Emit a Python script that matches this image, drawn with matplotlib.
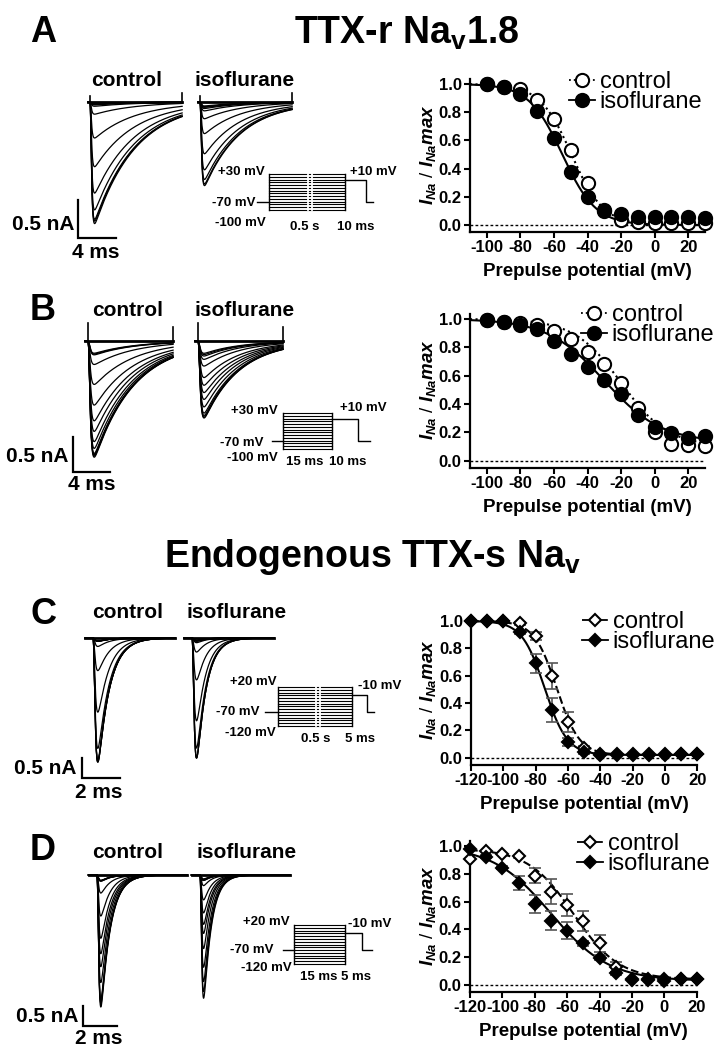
import numpy as np
import matplotlib
matplotlib.use('Agg')
import matplotlib.pyplot as plt
from matplotlib.lines import Line2D

plt.rcParams['font.family'] = ['Liberation Sans', 'DejaVu Sans']
plt.rcParams['font.weight'] = 'bold'
plt.rcParams['axes.unicode_minus'] = False
plt.rcParams['mathtext.fontset'] = 'custom'
plt.rcParams['mathtext.rm'] = 'Liberation Sans:bold'
plt.rcParams['mathtext.it'] = 'Liberation Sans:italic:bold'
plt.rcParams['mathtext.bf'] = 'Liberation Sans:bold'

# ------------------------------------------------------------------ data
prepulse_AB = [-100, -90, -80, -70, -60, -50, -40, -30, -20, -10, 0, 10, 20, 30]
prepulse_CD = [-120, -110, -100, -90, -80, -70, -60, -50, -40, -30, -20, -10, 0, 10, 20]

ctrl_A = [1.00, 0.98, 0.965, 0.887, 0.749, 0.532, 0.296, 0.10, 0.035, 0.024, 0.017, 0.017, 0.012, 0.017]
iso_A = [1.00, 0.98, 0.927, 0.811, 0.619, 0.378, 0.200, 0.106, 0.078, 0.059, 0.059, 0.059, 0.059, 0.047]

ctrl_B = [0.99, 0.98, 0.97, 0.958, 0.915, 0.857, 0.770, 0.680, 0.546, 0.370, 0.200, 0.118, 0.111, 0.104]
iso_B = [0.99, 0.98, 0.958, 0.927, 0.847, 0.751, 0.663, 0.569, 0.470, 0.322, 0.236, 0.193, 0.158, 0.174]

ctrl_C = [1.0, 1.0, 1.0, 0.983, 0.89, 0.598, 0.263, 0.068, 0.025, 0.025, 0.025, 0.025, 0.025, 0.027, 0.027]
iso_C = [1.0, 1.0, 1.0, 0.917, 0.69, 0.349, 0.117, 0.039, 0.020, 0.020, 0.020, 0.020, 0.022, 0.027, 0.027]
err_ctrl_C = [0, 0, 0, 0.01, 0.03, 0.095, 0.073, 0.02, 0, 0, 0, 0, 0, 0, 0]
err_iso_C = [0, 0, 0, 0.01, 0.07, 0.088, 0.03, 0.01, 0, 0, 0, 0, 0, 0, 0]

ctrl_D = [0.91, 0.966, 0.942, 0.93, 0.787, 0.671, 0.576, 0.463, 0.300, 0.132, 0.040, 0.040, 0.040, 0.045, 0.045]
iso_D = [0.976, 0.923, 0.844, 0.731, 0.583, 0.463, 0.391, 0.300, 0.197, 0.084, 0.036, 0.036, 0.031, 0.043, 0.043]
err_ctrl_D = [0, 0, 0, 0, 0.054, 0.09, 0.08, 0.072, 0.06, 0.036, 0, 0, 0, 0, 0]
err_iso_D = [0, 0.01, 0.01, 0.05, 0.068, 0.07, 0.06, 0.02, 0.02, 0.01, 0, 0, 0, 0, 0]

# Boltzmann fits: (V1/2, slope k, top, bottom)
fit_ctrl_A = (-49.5, 9.5, 1.0, 0.0)
fit_iso_A = (-55.0, 10.0, 1.0, 0.0)
fit_ctrl_B = (-20.0, 14.0, 1.0, 0.10)
fit_iso_B = (-30.0, 17.0, 1.0, 0.13)
fit_ctrl_C = (-67.0, 7.0, 1.0, 0.02)
fit_iso_C = (-74.5, 7.0, 1.0, 0.02)
fit_ctrl_D = (-56.0, 14.0, 0.98, 0.04)
fit_iso_D = (-70.0, 18.0, 1.0, 0.03)

# peak currents of the example traces (nA): panels A, B, C, D
peak_ctrl_nA = [1.6, 1.66, 3.1, 3.3]
peak_iso_nA = [1.1, 1.1, 3.0, 3.08]

# protocol voltage steps (mV)
prepulse_levels_AB = [-100, -90, -80, -70, -60, -50, -40, -30, -20, -10, 0, 10, 20, 30]
prepulse_levels_CD = [-120, -110, -100, -90, -80, -70, -60, -50, -40, -30, -20, -10, 0, 10, 20]
holding_mV = -70
test_mV_AB = 10
test_mV_CD = -10

# ------------------------------------------------------------------ figure
W, H = 724, 1050
fig = plt.figure(figsize=(W / 100, H / 100), dpi=100)


def px_axes(x0, x1, y0, y1):
    ax = fig.add_axes([x0 / W, 1 - y1 / H, (x1 - x0) / W, (y1 - y0) / H])
    return ax


def ftext(x, y, s, **kw):
    fig.text(x / W, 1 - y / H, s, **kw)


def boltz(v, vh, k, top, bot):
    return bot + (top - bot) / (1 + np.exp((v - vh) / k))


# ------------------------------------------------------------------ right panels
def right_panel(x0, x1, y_zero, ppu, xlim, xticks, volts, ctrl, iso, fit_c, fit_i,
                marker, ms, ctrl_ls, err_c, err_i, leg_x, leg_y):
    ylo, yhi = -0.05, 1.05
    top = y_zero - yhi * ppu
    bot = y_zero - ylo * ppu
    ax = px_axes(x0, x1, top, bot)
    ax.set_xlim(*xlim)
    ax.set_ylim(ylo, yhi)
    for s in ['top', 'right']:
        ax.spines[s].set_visible(False)
    for s in ['left', 'bottom']:
        ax.spines[s].set_linewidth(1.6)
    ax.spines['left'].set_bounds(ylo, 1.035)
    ax.axhline(0, color='k', ls=(0, (2, 1.6)), lw=1.0, zorder=1)
    vv = np.linspace(xlim[0], xlim[1], 400)
    ax.plot(vv, boltz(vv, *fit_c), color='k', ls=ctrl_ls, lw=1.5, zorder=2)
    ax.plot(vv, boltz(vv, *fit_i), color='k', ls='-', lw=1.5, zorder=2)
    if err_c is not None:
        ax.errorbar(volts, ctrl, yerr=err_c, fmt='none', ecolor='#555555',
                    elinewidth=1.2, capsize=4, capthick=1.2, zorder=3)
        ax.errorbar(volts, iso, yerr=err_i, fmt='none', ecolor='#555555',
                    elinewidth=1.2, capsize=4, capthick=1.2, zorder=3)
    ax.plot(volts, ctrl, ls='none', marker=marker, ms=ms, mfc='white', mec='k',
            mew=1.5, clip_on=False, zorder=4)
    ax.plot(volts, iso, ls='none', marker=marker, ms=ms, mfc='k', mec='k',
            mew=1.5, clip_on=False, zorder=5)
    ax.set_xticks(xticks)
    ax.set_yticks([0.0, 0.2, 0.4, 0.6, 0.8, 1.0])
    ax.set_yticklabels(['0.0', '0.2', '0.4', '0.6', '0.8', '1.0'])
    ax.tick_params(direction='out', length=4, width=1.5, labelsize=12, pad=2)
    ax.set_xlabel('Prepulse potential (mV)', fontsize=13.5, fontweight='bold')
    ax.xaxis.set_label_coords(0.5, -31.0 / (bot - top))
    ax.set_ylabel(r'$I_{Na}$ / $I_{Na}max$', fontsize=13.5)
    ax.yaxis.set_label_coords((438 - x0) / (x1 - x0), 0.5)
    hc = Line2D([], [], color='k', ls=ctrl_ls, lw=1.3, marker=marker, ms=ms,
                mfc='white', mec='k', mew=1.5)
    hi = Line2D([], [], color='k', ls='-', lw=1.3, marker=marker, ms=ms,
                mfc='k', mec='k', mew=1.5)
    ax.legend([hc, hi], ['control', 'isoflurane'], loc='center left',
              bbox_to_anchor=((leg_x - 13) / W, 1 - leg_y / H),
              bbox_transform=fig.transFigure, frameon=False,
              prop={'size': 17, 'weight': 'normal'}, handlelength=1.1,
              handletextpad=0.2, labelspacing=-0.08, borderpad=0, borderaxespad=0)
    return ax


right_panel(470, 705, 225, 141, (-110, 30), [-100, -80, -60, -40, -20, 0, 20],
            prepulse_AB, ctrl_A, iso_A, fit_ctrl_A, fit_iso_A, 'o', 9.5, ':',
            None, None, 582, 92)
right_panel(470, 705, 460.7, 141.7, (-110, 30), [-100, -80, -60, -40, -20, 0, 20],
            prepulse_AB, ctrl_B, iso_B, fit_ctrl_B, fit_iso_B, 'o', 9.5, ':',
            None, None, 594, 325)
right_panel(471, 697.4, 757.7, 136.7, (-120, 20), [-120, -100, -80, -60, -40, -20, 0, 20],
            prepulse_CD, ctrl_C, iso_C, fit_ctrl_C, fit_iso_C, 'D', 6.3, '--',
            err_ctrl_C, err_iso_C, 595, 632)
right_panel(470, 696.7, 985, 139, (-120, 20), [-120, -100, -80, -60, -40, -20, 0, 20],
            prepulse_CD, ctrl_D, iso_D, fit_ctrl_D, fit_iso_D, 'D', 6.3, '--',
            err_ctrl_D, err_iso_D, 590, 854)


# ------------------------------------------------------------------ current traces
def current_shape(t, tau_m, tau_h):
    tc = np.clip(t, 0, None)
    g = np.where(t > 0, (1 - np.exp(-tc / tau_m)) ** 3 * np.exp(-tc / tau_h), 0.0)
    return g / g.max()


def trace_panel(box, x_drop, base_y, ppm, ppn, iso_drop, avail_c, avail_i, imax_c, imax_i,
                tau_m, tau_h_c, tau_h_i, pre, dur, art_s, art_e, sb_xy, sb_ms):
    bx0, bx1, by0, by1 = box
    ax = px_axes(bx0, bx1, by0, by1)
    ax.set_xlim((bx0 - x_drop) / ppm, (bx1 - x_drop) / ppm)
    ax.set_ylim((base_y - by1) / ppn, (base_y - by0) / ppn)
    ax.axis('off')
    t = np.linspace(-pre, dur, 900)
    off = (iso_drop - x_drop) / ppm
    for avail, imax, tau_h, shift in [(avail_c, imax_c, tau_h_c, 0.0),
                                       (avail_i, imax_i, tau_h_i, off)]:
        shp = current_shape(t, tau_m, tau_h)
        hmax = max(avail)
        for h in avail:
            ax.plot(t + shift, -imax * h / hmax * shp, color='k', lw=0.9)
        ax.plot(t + shift, 0 * t, color='k', lw=2.0)
        if art_s:
            ax.plot([shift, shift], [0, art_s], color='k', lw=1.2)
        if art_e:
            ax.plot([shift + dur, shift + dur], [0, art_e], color='k', lw=1.2)
    sx = (sb_xy[0] - x_drop) / ppm
    sy = (base_y - sb_xy[1]) / ppn
    ax.plot([sx, sx, sx + sb_ms], [sy + 0.5, sy, sy], color='k', lw=1.6,
            solid_joinstyle='miter')
    return ax


trace_panel((0, 330, 55, 270), 90, 102, 9.5, 76, 200, ctrl_A, iso_A,
            peak_ctrl_nA[0], peak_iso_nA[0], 0.1, 4.3, 3.8, 0.2, 9.7, 0.08, 0.12, (78, 238), 4)
trace_panel((0, 330, 315, 500), 88, 341, 9.25, 70, 198, ctrl_B, iso_B,
            peak_ctrl_nA[1], peak_iso_nA[1], 0.15, 4.3, 3.8, 0.3, 9.2, 0.26, 0.2, (73, 472), 4)
trace_panel((0, 330, 625, 800), 93, 638, 19, 40, 192, ctrl_C, iso_C,
            peak_ctrl_nA[2], peak_iso_nA[2], 0.08, 0.6, 0.5, 0.4, 4.3, 0, 0, (82, 778), 2)
trace_panel((0, 330, 862, 1045), 97, 875, 17, 40, 200, ctrl_D, iso_D,
            peak_ctrl_nA[3], peak_iso_nA[3], 0.07, 0.55, 0.45, 0.5, 5.3, 0, 0, (83, 1026), 2)


# ------------------------------------------------------------------ protocols
def protocol(box, levels, top_mv, bot_mv, hold_x, test_mv, test_end, tail_end, brk):
    bx0, bx1, by0, by1 = box
    ppx = bx1 - bx0
    ppmv = (by1 - by0) / (top_mv - bot_mv)
    ax = px_axes(hold_x - 2, tail_end + 2, by0 - 4, by1 + 4)
    ax.set_xlim((hold_x - 2 - bx0) / ppx, (tail_end + 2 - bx0) / ppx)
    ax.set_ylim(bot_mv - 4 / ppmv, top_mv + 4 / ppmv)
    ax.axis('off')
    for lv in levels:
        ax.plot([0, 1], [lv, lv], color='k', lw=0.8)
    ax.plot([0, 0], [bot_mv, top_mv], color='k', lw=1.0)
    ax.plot([1, 1], [bot_mv, top_mv], color='k', lw=1.0)
    xh = (hold_x - bx0) / ppx
    xt = (test_end - bx0) / ppx
    xe = (tail_end - bx0) / ppx
    ax.plot([xh, 0], [holding_mV, holding_mV], color='k', lw=1.0)
    ax.plot([1, xt, xt, xe], [test_mv, test_mv, holding_mV, holding_mV], color='k', lw=1.0)
    if brk is not None:
        xb = (brk - bx0) / ppx
        for d in (-1.8, 1.8):
            ax.plot([xb + d / ppx, xb + d / ppx], [bot_mv - 1, top_mv + 1], color='white', lw=1.3)


protocol((269, 345, 174, 210), prepulse_levels_AB, 30, -100, 257, test_mV_AB, 366, 373, 310)
protocol((283, 332, 413, 449), prepulse_levels_AB, 30, -100, 272, test_mV_AB, 358, 370, None)
protocol((278, 352, 687, 726), prepulse_levels_CD, 20, -120, 265, test_mV_CD, 367, 374, 318)
protocol((294, 345, 925, 964), prepulse_levels_CD, 20, -120, 283, test_mV_CD, 362, 372, None)

proto_labels = [
    ('+30 mV', 265, 172, 'right'), ('-70 mV', 255, 203, 'right'), ('-100 mV', 266, 223, 'right'),
    ('0.5 s', 305, 227, 'center'), ('10 ms', 356, 227, 'center'), ('+10 mV', 350, 172, 'left'),
    ('+30 mV', 278, 411, 'right'), ('-70 mV', 264, 443, 'right'), ('-100 mV', 278, 458, 'right'),
    ('15 ms', 305, 462, 'center'), ('10 ms', 348, 462, 'center'), ('+10 mV', 340, 408, 'left'),
    ('+20 mV', 277, 682, 'right'), ('-70 mV', 260, 712, 'right'), ('-120 mV', 276, 733, 'right'),
    ('0.5 s', 316, 739, 'center'), ('5 ms', 360, 739, 'center'), ('-10 mV', 358, 686, 'left'),
    ('+20 mV', 290, 922, 'right'), ('-70 mV', 273, 950, 'right'), ('-120 mV', 292, 968, 'right'),
    ('15 ms', 319, 977, 'center'), ('5 ms', 356, 977, 'center'), ('-10 mV', 348, 924, 'left'),
]
for s, x, y, ha in proto_labels:
    ftext(x, y, s, ha=ha, va='center', fontsize=9.5, fontweight='bold')

# ------------------------------------------------------------------ labels
for s, x, y in [('control', 127, 80), ('isoflurane', 245, 80),
                ('control', 128, 311), ('isoflurane', 245, 311),
                ('control', 128, 613), ('isoflurane', 237, 613),
                ('control', 128, 852), ('isoflurane', 247, 852)]:
    ftext(x, y, s, ha='center', va='center', fontsize=15, fontweight='bold')

for s, x, y in [('0.5 nA', 74, 225), ('0.5 nA', 69, 457), ('0.5 nA', 76, 768), ('0.5 nA', 78, 1017)]:
    ftext(x, y, s, ha='right', va='center', fontsize=15, fontweight='bold')
for s, x, y in [('4 ms', 96, 252), ('4 ms', 92, 485), ('2 ms', 99, 793), ('2 ms', 99, 1039)]:
    ftext(x, y, s, ha='center', va='center', fontsize=15, fontweight='bold')

for s, x, y in [('A', 43, 32), ('B', 43, 311), ('C', 43, 615), ('D', 43, 850)]:
    ftext(x, y, s, ha='center', va='center', fontsize=26, fontweight='bold')

ftext(407, 33, r'TTX-r Na$_\mathrm{v}$1.8', ha='center', va='center', fontsize=27, fontweight='bold')
ftext(372, 557, r'Endogenous TTX-s Na$_\mathrm{v}$', ha='center', va='center', fontsize=27, fontweight='bold')

fig.savefig('out.png', dpi=100)
